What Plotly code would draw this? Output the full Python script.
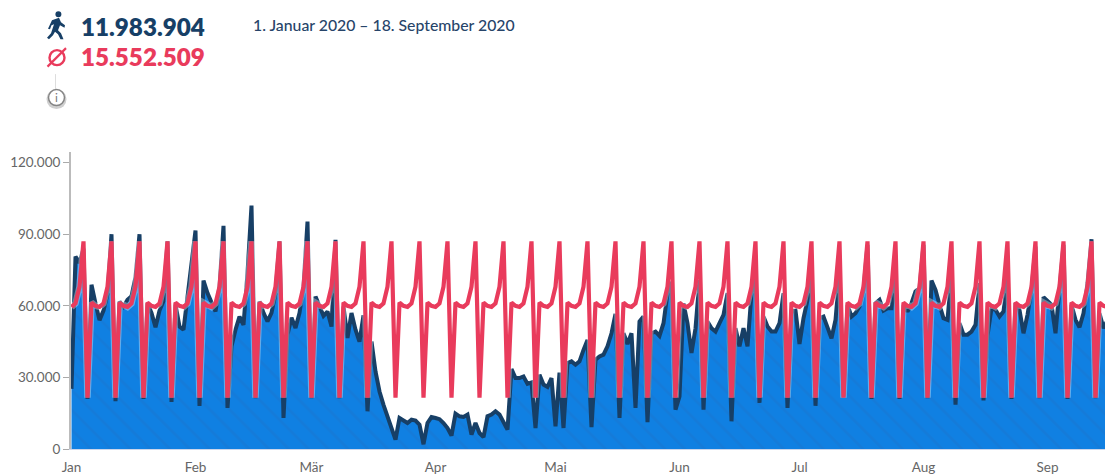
import plotly.graph_objects as go
import pandas as pd

START_DATE = "2020-01-01"
MONTH_TICKS = ["2020-01-01", "2020-02-01", "2020-03-01", "2020-04-01", "2020-05-01",
               "2020-06-01", "2020-07-01", "2020-08-01", "2020-09-01"]
MONTH_LABELS = ["Jan", "Feb", "Mär", "Apr", "Mai", "Jun", "Jul", "Aug", "Sep"]
Y_TICKS = [0, 30000, 60000, 90000, 120000]
Y_LABELS = ["0", "30.000", "60.000", "90.000", "120.000"]
TOTAL_LABEL = "11.983.904"
AVERAGE_LABEL = "15.552.509"
DATE_LABEL = "1. Januar 2020 – 18. September 2020"

visitors = [
    25200, 80600, 78000, 84000, 21000,
    68800, 61000, 54000, 58000, 65000, 90000, 20000,
    61800, 59700, 62500, 64000, 72000, 90000, 21000,
    61000, 57000, 51000, 58000, 62000, 87000, 19700,
    60500, 51300, 50000, 65000, 76500, 91500, 18000,
    70600, 65300, 61800, 57600, 68000, 93500, 17200,
    43000, 50000, 55500, 52000, 73700, 102000, 21300,
    61800, 57000, 53500, 57000, 65300, 87000, 13000,
    48000, 55000, 50700, 57000, 68000, 95300, 21300,
    63900, 59700, 55800, 57600, 51300, 87600, 21300,
    59700, 46500, 57000, 50000, 45000, 56000, 15800,
    45000, 32500, 24100, 18500, 13700, 8800, 3900,
    13000, 12000, 10900, 12300, 11900, 10200, 2000,
    10900, 13400, 13000, 12500, 10900, 8800, 5600,
    14800, 13700, 13400, 14400, 6000, 10900, 6700,
    5000, 13700, 14400, 15800, 14400, 11300, 8100,
    33500, 29700, 29700, 30400, 27300, 27900, 8800,
    31100, 27000, 26000, 29700, 9500, 32000, 8800,
    36000, 36700, 35300, 36700, 41500, 45700, 9200,
    37400, 38800, 39500, 43000, 48500, 56600, 13000,
    48500, 44000, 48500, 17200, 53400, 55500, 11200,
    48500, 49200, 47400, 52700, 65300, 70000, 16500,
    22000, 61000, 52700, 40200, 50600, 70900, 16500,
    53400, 50600, 49200, 52700, 56200, 65300, 11600,
    50600, 43000, 50600, 43000, 65300, 71500, 19300,
    55500, 51300, 49200, 49200, 52700, 65300, 17200,
    57600, 58000, 44000, 54800, 62500, 72300, 18100,
    54800, 55500, 50600, 46400, 54100, 73700, 22000,
    60400, 55500, 56900, 59700, 66700, 85500, 21000,
    61100, 62500, 58000, 59000, 59000, 73700, 21000,
    60400, 57600, 61100, 66000, 67400, 85500, 21300,
    70600, 66700, 60400, 54800, 54100, 73700, 18600,
    52700, 47900, 47900, 49200, 52000, 69500, 20400,
    47500, 59000, 58300, 55500, 57600, 71600, 21000,
    61100, 58300, 48500, 56200, 66700, 84800, 21300,
    63600, 61800, 60400, 48500, 65300, 85500, 21000,
    60400, 54100, 51000, 56900, 69500, 87900, 21300,
    56900, 50600, 54000, 56000, 60000,
]

average = [
    59500, 61000, 68000, 87000, 21500,
    61300, 60000, 59500, 61000, 68000, 87000, 21500,
    61300, 60000, 59500, 61000, 68000, 87000, 21500,
    61300, 60000, 59500, 61000, 68000, 87000, 21500,
    61300, 60000, 59500, 61000, 68000, 87000, 21500,
    61300, 60000, 59500, 61000, 68000, 87000, 21500,
    61300, 60000, 59500, 61000, 68000, 87000, 21500,
    61300, 60000, 59500, 61000, 68000, 87000, 21500,
    61300, 60000, 59500, 61000, 68000, 87000, 21500,
    61300, 60000, 59500, 61000, 68000, 87000, 21500,
    61300, 60000, 59500, 61000, 68000, 87000, 21500,
    61300, 60000, 59500, 61000, 68000, 87000, 21500,
    61300, 60000, 59500, 61000, 68000, 87000, 21500,
    61300, 60000, 59500, 61000, 68000, 87000, 21500,
    61300, 60000, 59500, 61000, 68000, 87000, 21500,
    61300, 60000, 59500, 61000, 68000, 87000, 21500,
    61300, 60000, 59500, 61000, 68000, 87000, 21500,
    61300, 60000, 59500, 61000, 68000, 87000, 21500,
    61300, 60000, 59500, 61000, 68000, 87000, 21500,
    61300, 60000, 59500, 61000, 68000, 87000, 21500,
    61300, 60000, 59500, 61000, 68000, 87000, 21500,
    61300, 60000, 59500, 61000, 68000, 87000, 21500,
    61300, 60000, 59500, 61000, 68000, 87000, 21500,
    61300, 60000, 59500, 61000, 68000, 87000, 21500,
    61300, 60000, 59500, 61000, 68000, 87000, 21500,
    61300, 60000, 59500, 61000, 68000, 87000, 21500,
    61300, 60000, 59500, 61000, 68000, 87000, 21500,
    61300, 60000, 59500, 61000, 68000, 87000, 21500,
    61300, 60000, 59500, 61000, 68000, 87000, 21500,
    61300, 60000, 59500, 61000, 68000, 87000, 21500,
    61300, 60000, 59500, 61000, 68000, 87000, 21500,
    61300, 60000, 59500, 61000, 68000, 87000, 21500,
    61300, 60000, 59500, 61000, 68000, 87000, 21500,
    61300, 60000, 59500, 61000, 68000, 87000, 21500,
    61300, 60000, 59500, 61000, 68000, 87000, 21500,
    61300, 60000, 59500, 61000, 68000, 87000, 21500,
    61300, 60000, 59500, 61000, 68000, 87000, 21500,
    61300, 60000, 59500, 61000, 59000,
]

NAVY = "#173f66"
RED = "#e93b5c"
FILL = "#1080e2"
STRIPE = "#1a76d0"
GREY = "#666666"

W, H = 1105, 475
ML, MR, MT, MB = 71, 0, 152, 25.6
PW, PH = W - ML - MR, H - MT - MB


def px(x):
    return (x - ML) / PW


def py(y):
    return 1 - (y - MT) / PH


def path(points):
    return "M " + " L ".join(f"{px(x):.5f},{py(y):.5f}" for x, y in points) + " Z"


dates = pd.date_range(START_DATE, periods=len(visitors), freq="D")

fig = go.Figure()
fig.add_trace(go.Scatter(
    x=dates, y=visitors, mode="lines", name="Besucher",
    line=dict(color=NAVY, width=4, shape="linear"),
    fill="tozeroy", fillcolor=FILL,
    fillpattern=dict(shape="\\", bgcolor=FILL, fgcolor=STRIPE, size=14, solidity=0.2),
    showlegend=False,
))
fig.add_trace(go.Scatter(
    x=dates, y=average, mode="lines", hoverinfo="skip",
    line=dict(color="rgba(255,255,255,0.35)", width=6.5),
    showlegend=False,
))
fig.add_trace(go.Scatter(
    x=dates, y=average, mode="lines", name="Durchschnitt",
    line=dict(color=RED, width=4.2),
    showlegend=False,
))

shapes = [
    # walking person
    dict(type="path", xref="paper", yref="paper", layer="above", fillcolor=NAVY, line_width=0,
         path=path([(52, 20), (59, 17.5), (61, 22), (65, 25), (64.5, 27.5), (60, 25), (58, 30),
                    (61, 33), (63.5, 39), (60.5, 39), (58, 34), (55, 31.5), (53, 35), (49, 39),
                    (47, 37.5), (51, 33), (54, 24), (51.5, 25), (50, 29), (48, 28.5)])),
    dict(type="circle", xref="paper", yref="paper", layer="above", fillcolor=NAVY, line_width=0,
         x0=px(55.4), x1=px(61.4), y0=py(17), y1=py(11)),
    # average symbol
    dict(type="circle", xref="paper", yref="paper", layer="above", fillcolor="rgba(0,0,0,0)",
         line=dict(color=RED, width=2.4), x0=px(49.5), x1=px(64.5), y0=py(65), y1=py(50)),
    dict(type="line", xref="paper", yref="paper", layer="above",
         line=dict(color=RED, width=2.2), x0=px(47.5), x1=px(66), y0=py(66.5), y1=py(48)),
    # info symbol
    dict(type="line", xref="paper", yref="paper", layer="above",
         line=dict(color="#dddddd", width=1), x0=px(55.5), x1=px(55.5), y0=py(74), y1=py(89)),
    dict(type="circle", xref="paper", yref="paper", layer="above", fillcolor="#cfcfcf", line_width=0,
         x0=px(46.5), x1=px(66.5), y0=py(109), y1=py(89)),
    dict(type="circle", xref="paper", yref="paper", layer="above", fillcolor="white",
         line=dict(color="#858585", width=1.5), x0=px(48.5), x1=px(64.5), y0=py(105.5), y1=py(89.5)),
]

annotations = [
    dict(text=TOTAL_LABEL, x=px(80), y=py(26), font=dict(family="Lato", size=24.2, color=NAVY), weight=800),
    dict(text=AVERAGE_LABEL, x=px(80), y=py(56.5), font=dict(family="Lato", size=24.2, color=RED), weight=800),
    dict(text=DATE_LABEL, x=px(251.5), y=py(24), font=dict(family="Lato", size=15.8, color="#274469"), weight=500),
    dict(text="i", x=px(56.5), y=py(97.5), font=dict(family="Lato", size=12, color="#777777"), weight=400),
]
for a in annotations:
    weight = a.pop("weight")
    a["font"]["weight"] = weight
    a.update(xref="paper", yref="paper", xanchor="left", yanchor="middle", showarrow=False,
             align="left", borderpad=0)
annotations[-1]["xanchor"] = "center"

fig.update_layout(
    width=W, height=H,
    autosize=False,
    margin=dict(l=ML, r=MR, t=MT, b=MB, pad=0),
    plot_bgcolor="white", paper_bgcolor="white",
    font=dict(family="Lato", color=GREY, size=13.5),
    shapes=shapes, annotations=annotations,
    showlegend=False,
    xaxis=dict(
        type="date",
        range=["2019-12-31 21:00", "2020-09-15 09:00"],
        tickmode="array", tickvals=MONTH_TICKS, ticktext=MONTH_LABELS,
        ticks="", showgrid=False, zeroline=False,
        showline=True, linecolor="#ccd6eb", linewidth=1,
        tickfont=dict(family="Lato", size=13.5, color=GREY),
        ticklabelstandoff=6,
        automargin=False,
    ),
    yaxis=dict(
        range=[0, 124430],
        tickmode="array", tickvals=Y_TICKS, ticktext=Y_LABELS,
        ticks="outside", ticklen=6, tickwidth=1, tickcolor="#aaaaaa",
        showgrid=False, zeroline=False,
        showline=True, linecolor="#bbbbbb", linewidth=2,
        tickfont=dict(family="Lato", size=13.5, color=GREY),
        automargin=False,
    ),
)

fig.write_html(
    "out.html",
    config={"displayModeBar": False},
    post_script="document.body.style.margin='0';document.body.style.overflow='hidden';",
)
